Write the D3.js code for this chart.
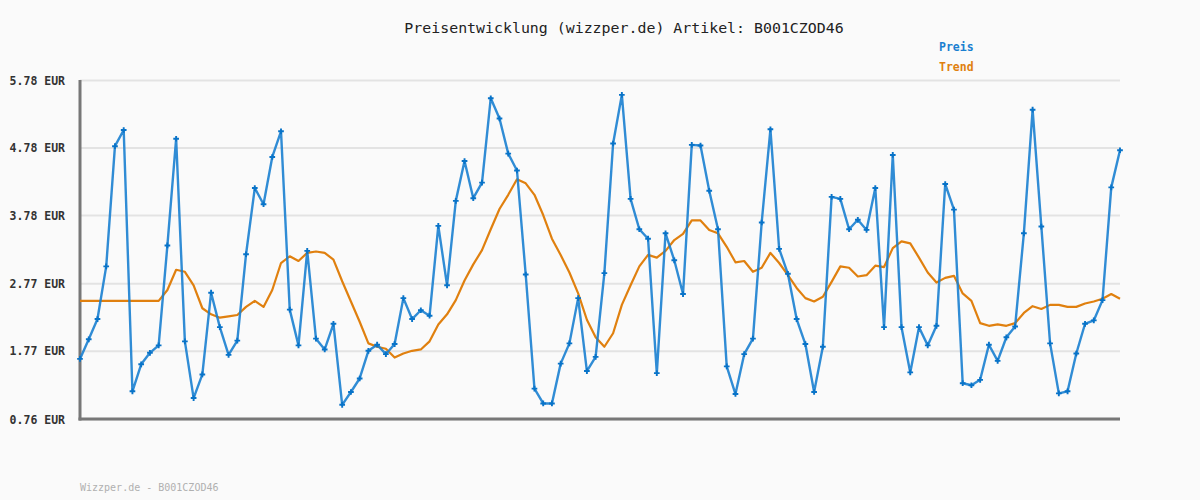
<!DOCTYPE html>
<html>
<head>
<meta charset="utf-8">
<script src="https://cdn.jsdelivr.net/npm/d3@7"></script>
<style>
  html, body { margin: 0; padding: 0; background: #fafafa; }
  svg { display: block; }
</style>
</head>
<body>
<svg id="chart" width="1200" height="500"></svg>
<script>
const titleText = "Preisentwicklung (wizzper.de) Artikel: B001CZOD46";
const footerText = "Wizzper.de - B001CZOD46";
const seriesNames = ["Preis", "Trend"];
const yTicks = [0.76, 1.77, 2.77, 3.78, 4.78, 5.78];
const yTickLabels = ["0.76 EUR", "1.77 EUR", "2.77 EUR", "3.78 EUR", "4.78 EUR", "5.78 EUR"];

const preis = [
  1.65, 1.94, 2.24, 3.02, 4.80, 5.04, 1.17, 1.57, 1.74, 1.85,
  3.33, 4.91, 1.91, 1.07, 1.42, 2.63, 2.12, 1.71, 1.92, 3.20,
  4.18, 3.94, 4.64, 5.02, 2.38, 1.85, 3.25, 1.95, 1.79, 2.17,
  0.97, 1.16, 1.36, 1.77, 1.86, 1.72, 1.87, 2.55, 2.24, 2.37,
  2.29, 3.62, 2.74, 3.99, 4.58, 4.03, 4.26, 5.51, 5.21, 4.69,
  4.44, 2.90, 1.21, 0.99, 0.99, 1.58, 1.88, 2.55, 1.47, 1.68,
  2.92, 4.84, 5.56, 4.02, 3.57, 3.43, 1.44, 3.51, 3.11, 2.61,
  4.82, 4.81, 4.14, 3.57, 1.54, 1.13, 1.72, 1.95, 3.67, 5.05,
  3.28, 2.91, 2.24, 1.87, 1.16, 1.83, 4.05, 4.02, 3.57, 3.71,
  3.56, 4.18, 2.12, 4.67, 2.12, 1.45, 2.12, 1.85, 2.14, 4.24,
  3.86, 1.29, 1.26, 1.34, 1.86, 1.62, 1.97, 2.13, 3.51, 5.34,
  3.61, 1.88, 1.14, 1.17, 1.73, 2.17, 2.22, 2.52, 4.19, 4.74
];

const trend = [
  2.51, 2.51, 2.51, 2.51, 2.51, 2.51, 2.51, 2.51, 2.51, 2.51,
  2.67, 2.97, 2.94, 2.74, 2.40, 2.31, 2.26, 2.28, 2.30, 2.42,
  2.51, 2.42, 2.67, 3.07, 3.17, 3.10, 3.22, 3.24, 3.22, 3.12,
  2.80, 2.50, 2.20, 1.88, 1.83, 1.80, 1.67, 1.73, 1.77, 1.79,
  1.91, 2.16, 2.31, 2.52, 2.81, 3.05, 3.26, 3.57, 3.87, 4.08,
  4.31, 4.25, 4.08, 3.78, 3.43, 3.19, 2.93, 2.62, 2.23, 1.97,
  1.83, 2.03, 2.45, 2.74, 3.02, 3.19, 3.15, 3.25, 3.41, 3.50,
  3.70, 3.70, 3.56, 3.51, 3.31, 3.08, 3.10, 2.94, 3.00, 3.22,
  3.07, 2.89, 2.70, 2.55, 2.50, 2.57, 2.79, 3.02, 3.00, 2.87,
  2.89, 3.03, 3.01, 3.29, 3.39, 3.36, 3.15, 2.93, 2.78, 2.85,
  2.88, 2.62, 2.51, 2.18, 2.14, 2.16, 2.14, 2.18, 2.33, 2.43,
  2.39, 2.45, 2.45, 2.42, 2.42, 2.47, 2.50, 2.54, 2.61, 2.54
];

const colors = { preis: "#1a7fd0", preisPoint: "#0873c8", trend: "#e0800f" };
const fontMono = "'DejaVu Sans Mono', 'Liberation Mono', monospace";

const svg = d3.select("#chart");
const margin = { left: 80, right: 80, top: 80, bottom: 81 };
const W = 1200, H = 500;

const x = d3.scaleLinear().domain([0, preis.length - 1]).range([margin.left, W - margin.right]);
const y = d3.scaleLinear().domain([0.76, 5.78]).range([H - margin.bottom, margin.top]);

svg.append("rect").attr("width", W).attr("height", H).attr("fill", "#fafafa");

// grid
const yAxis = d3.axisLeft(y).tickValues(yTicks)
  .tickFormat((d, i) => yTickLabels[i])
  .tickSize(-(W - margin.left - margin.right)).tickPadding(15);
const gy = svg.append("g").attr("transform", `translate(${margin.left},0)`).call(yAxis);
gy.select(".domain").remove();
gy.selectAll(".tick line").attr("stroke", "#e3e3e3").attr("stroke-width", 2);
gy.selectAll(".tick text")
  .attr("font-family", fontMono).attr("font-size", 11.5).attr("font-weight", "bold")
  .attr("fill", "#333").attr("x", -15).attr("dy", "0.35em");

// axes lines
svg.append("line").attr("x1", margin.left).attr("x2", margin.left)
  .attr("y1", margin.top).attr("y2", y(0.76) + 1.5)
  .attr("stroke", "#777").attr("stroke-width", 3);
svg.append("line").attr("x1", margin.left - 1.5).attr("x2", W - margin.right)
  .attr("y1", y(0.76)).attr("y2", y(0.76))
  .attr("stroke", "#777").attr("stroke-width", 3);

// trend
const line = d3.line().x((d, i) => x(i)).y(d => y(d));
svg.append("path").datum(trend).attr("d", line)
  .attr("fill", "none").attr("stroke", colors.trend).attr("stroke-width", 2.2)
  .attr("stroke-linejoin", "round");

// preis
svg.append("path").datum(preis).attr("d", line)
  .attr("fill", "none").attr("stroke", colors.preis).attr("stroke-width", 2.4)
  .attr("stroke-linejoin", "round").attr("opacity", 0.9);

const sym = d3.symbol().type(d3.symbolCross).size(18);
svg.append("g").selectAll("path").data(preis).join("path")
  .attr("transform", (d, i) => `translate(${x(i)},${y(d)})`)
  .attr("d", sym).attr("fill", colors.preisPoint);

// title
svg.append("text").attr("x", 624).attr("y", 33).attr("text-anchor", "middle")
  .attr("font-family", fontMono).attr("font-size", 14.9).attr("fill", "#222")
  .text(titleText);

// legend
svg.append("text").attr("x", 939).attr("y", 51)
  .attr("font-family", fontMono).attr("font-size", 11.5).attr("font-weight", "bold")
  .attr("fill", colors.preis).text(seriesNames[0]);
svg.append("text").attr("x", 939).attr("y", 71)
  .attr("font-family", fontMono).attr("font-size", 11.5).attr("font-weight", "bold")
  .attr("fill", colors.trend).text(seriesNames[1]);

// footer
svg.append("text").attr("x", 80).attr("y", 491)
  .attr("font-family", fontMono).attr("font-size", 10).attr("fill", "#b0b0b0")
  .text(footerText);
</script>
</body>
</html>
